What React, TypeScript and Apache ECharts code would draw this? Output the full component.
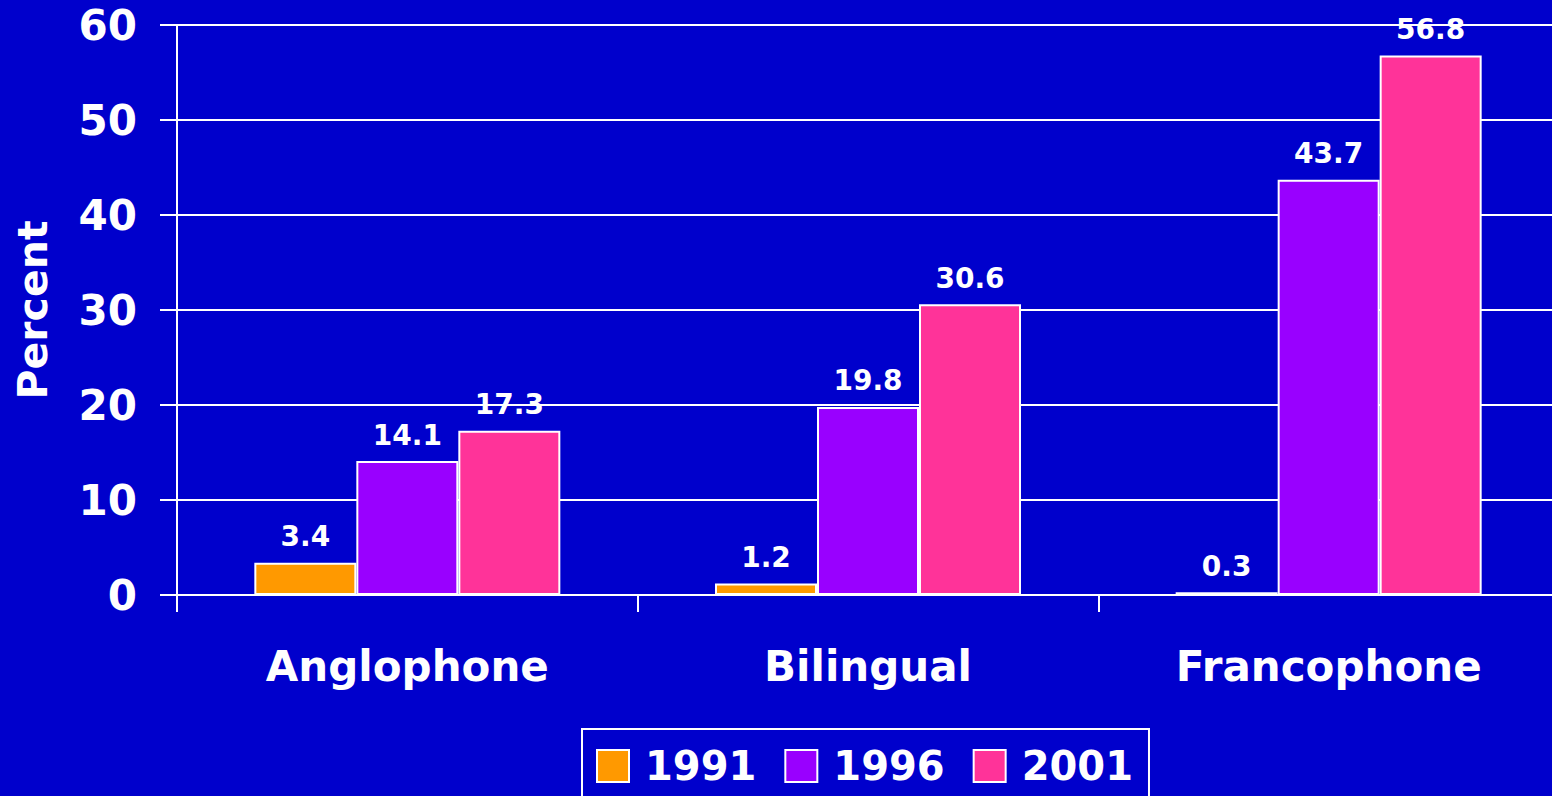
import React, { useEffect, useRef } from "react";
import * as echarts from "echarts";

const categories = ["Anglophone", "Bilingual", "Francophone"];
const seriesNames = ["1991", "1996", "2001"];
const values1991 = [3.4, 1.2, 0.3];
const values1996 = [14.1, 19.8, 43.7];
const values2001 = [17.3, 30.6, 56.8];
const colors = ["#FF9900", "#9900FF", "#FF3399"];

const FONT = "'DejaVu Sans', Verdana, sans-serif";

export default function App() {
  const ref = useRef<HTMLDivElement>(null);
  useEffect(() => {
    if (!ref.current) return;
    const chart = echarts.init(ref.current, undefined, { renderer: "svg" });
    const data = [values1991, values1996, values2001];
    chart.setOption({
      animation: false,
      backgroundColor: "#0000CC",
      textStyle: { fontFamily: FONT },
      grid: {
        left: 177,
        top: 25,
        bottom: 201,
        width: 1382,
        containLabel: false,
        outerBoundsMode: "none",
      },
      legend: {
        left: 582,
        top: 729,
        orient: "horizontal",
        borderColor: "#FFFFFF",
        borderWidth: 2,
        padding: [17, 16, 30, 14],
        itemWidth: 32,
        itemHeight: 32,
        itemGap: 28,
        icon: "rect",
        data: seriesNames,
        textStyle: {
          color: "#FFFFFF",
          fontSize: 40,
          fontWeight: "bold",
          fontFamily: FONT,
          padding: [0, 0, 0, 11],
        },
      },
      xAxis: {
        type: "category",
        data: categories,
        axisLine: { show: true, lineStyle: { color: "#FFFFFF", width: 2 } },
        axisTick: { show: true, length: 17, lineStyle: { color: "#FFFFFF", width: 2 } },
        axisLabel: {
          color: "#FFFFFF",
          fontSize: 42,
          fontWeight: "bold",
          fontFamily: FONT,
          margin: 50,
        },
      },
      yAxis: {
        type: "value",
        min: 0,
        max: 60,
        interval: 10,
        name: "Percent",
        nameLocation: "middle",
        nameGap: 124,
        nameTextStyle: {
          color: "#FFFFFF",
          fontSize: 41,
          fontWeight: "bold",
          fontFamily: FONT,
        },
        axisLine: { show: true, lineStyle: { color: "#FFFFFF", width: 2 } },
        axisTick: { show: true, length: 17, lineStyle: { color: "#FFFFFF", width: 2 } },
        splitLine: { show: true, lineStyle: { color: "#FFFFFF", width: 2 } },
        axisLabel: {
          color: "#FFFFFF",
          fontSize: 42,
          fontWeight: "bold",
          fontFamily: FONT,
          margin: 40,
        },
      },
      series: seriesNames.map((name, i) => ({
        name,
        type: "bar",
        data: data[i],
        barWidth: 102,
        barGap: "0%",
        itemStyle: { color: colors[i], borderColor: "#FFFFFF", borderWidth: 2 },
        label: {
          show: true,
          position: "top",
          distance: 12,
          color: "#FFFFFF",
          fontSize: 28,
          fontWeight: "bold",
          fontFamily: FONT,
          formatter: (p: any) => p.value.toFixed(1),
        },
      })),
    });
    return () => chart.dispose();
  }, []);
  return (
    <div
      ref={ref}
      style={{ position: "fixed", left: 0, top: 0, width: 1552, height: 796 }}
    />
  );
}
